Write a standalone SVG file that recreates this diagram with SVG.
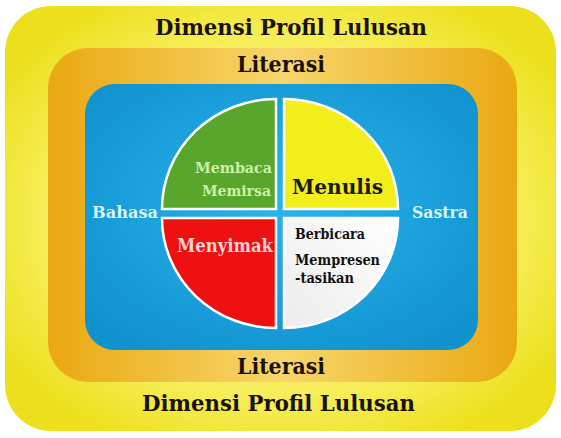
<svg xmlns="http://www.w3.org/2000/svg" width="561" height="438" viewBox="0 0 561 438">
  <defs>
    <radialGradient id="gYellow" cx="50%" cy="50%" r="60%">
      <stop offset="0" stop-color="#faf69a"/>
      <stop offset="0.7" stop-color="#f6ee5a"/>
      <stop offset="1" stop-color="#ece01c"/>
    </radialGradient>
    <linearGradient id="gOrangeH" x1="0" y1="0" x2="1" y2="0">
      <stop offset="0" stop-color="#eaa812"/>
      <stop offset="0.5" stop-color="#f7d66a"/>
      <stop offset="1" stop-color="#eaa812"/>
    </linearGradient>
    <radialGradient id="gBlue" cx="50%" cy="45%" r="65%">
      <stop offset="0" stop-color="#2bb4ec"/>
      <stop offset="1" stop-color="#1092cf"/>
    </radialGradient>
    <linearGradient id="gWhite" x1="1" y1="0" x2="0" y2="1">
      <stop offset="0" stop-color="#ffffff"/>
      <stop offset="1" stop-color="#ececec"/>
    </linearGradient>
    <style>
      .ttl { font-family: "DejaVu Serif", "Liberation Serif", serif; font-weight: bold; fill: #1a1208; }
      .lbl { font-family: "DejaVu Serif", "Liberation Serif", serif; font-weight: bold; }
      .quad { stroke: #ffffff; stroke-width: 2.5; }
    </style>
  </defs>
  <rect width="561" height="438" fill="#ffffff"/>
  <g id="dimensi">
    <rect x="5" y="6" width="551" height="425" rx="46" fill="url(#gYellow)"/>
    <text class="ttl" x="155" y="35" font-size="21.5" textLength="272" lengthAdjust="spacingAndGlyphs">Dimensi Profil Lulusan</text>
    <text class="ttl" x="142" y="411" font-size="21.5" textLength="273" lengthAdjust="spacingAndGlyphs">Dimensi Profil Lulusan</text>
  </g>
  <g id="literasi">
    <rect x="48" y="48" width="469" height="334" rx="40" fill="url(#gOrangeH)"/>
    <text class="ttl" x="237" y="72" font-size="21.5" textLength="88" lengthAdjust="spacingAndGlyphs">Literasi</text>
    <text class="ttl" x="237" y="374" font-size="21.5" textLength="88" lengthAdjust="spacingAndGlyphs">Literasi</text>
  </g>
  <g id="bahasa-sastra">
    <rect x="85" y="84" width="393" height="266" rx="30" fill="url(#gBlue)"/>
    <text class="lbl" x="92" y="218" font-size="17" fill="#d6f3f8" textLength="66" lengthAdjust="spacingAndGlyphs">Bahasa</text>
    <text class="lbl" x="412" y="218" font-size="17" fill="#d6f3f8" textLength="56" lengthAdjust="spacingAndGlyphs">Sastra</text>
  </g>
  <g id="membaca">
    <path class="quad" d="M276,209 H162 A114,110 0 0 1 276,99 Z" fill="#58a62b"/>
    <text class="lbl" x="195" y="173" font-size="15" fill="#cdf0a8" textLength="77" lengthAdjust="spacingAndGlyphs">Membaca</text>
    <text class="lbl" x="202" y="196" font-size="15" fill="#cdf0a8" textLength="69" lengthAdjust="spacingAndGlyphs">Memirsa</text>
  </g>
  <g id="menulis">
    <path class="quad" d="M284,209 V99 A114,110 0 0 1 398,209 Z" fill="#f2ee1c"/>
    <text class="lbl" x="292" y="194" font-size="21" fill="#1a1a10" textLength="91" lengthAdjust="spacingAndGlyphs">Menulis</text>
  </g>
  <g id="menyimak">
    <path class="quad" d="M276,218 V328 A114,110 0 0 1 162,218 Z" fill="#ee1111"/>
    <text class="lbl" x="177" y="252" font-size="18" fill="#f8d2d2" textLength="96" lengthAdjust="spacingAndGlyphs">Menyimak</text>
  </g>
  <g id="berbicara">
    <path class="quad" d="M284,218 H398 A114,110 0 0 1 284,328 Z" fill="url(#gWhite)"/>
    <text class="lbl" x="295" y="239" font-size="14.5" fill="#111111" textLength="70" lengthAdjust="spacingAndGlyphs">Berbicara</text>
    <text class="lbl" x="295" y="265" font-size="14.5" fill="#111111" textLength="85" lengthAdjust="spacingAndGlyphs">Mempresen</text>
    <text class="lbl" x="295" y="283" font-size="14.5" fill="#111111" textLength="59" lengthAdjust="spacingAndGlyphs">-tasikan</text>
  </g>
</svg>
